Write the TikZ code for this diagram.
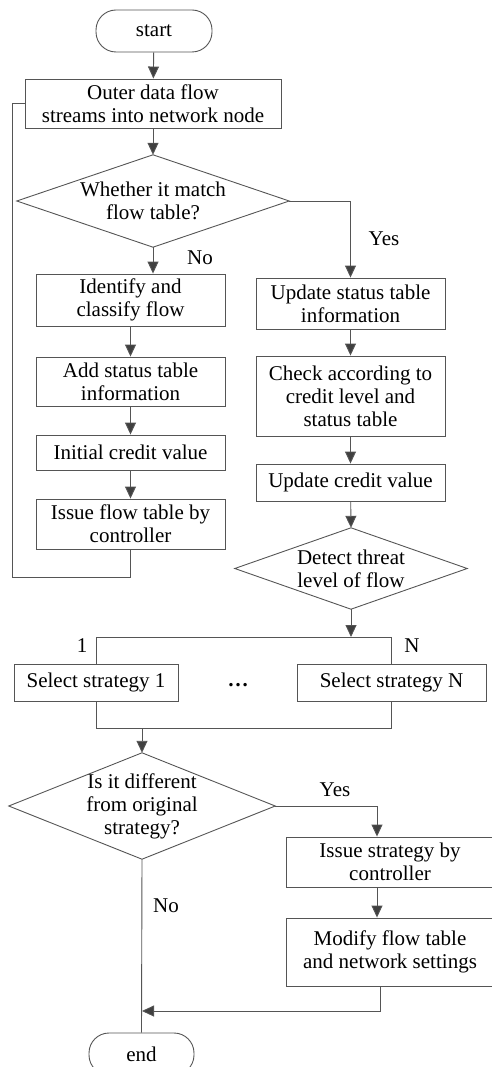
\documentclass[tikz,border=0pt]{standalone}
\usepackage{fontspec}
\setmainfont{Liberation Serif}
\usetikzlibrary{arrows.meta,calc}
\definecolor{ln}{HTML}{555555}
\definecolor{ah}{HTML}{404040}
\begin{document}
\begin{tikzpicture}[x=1pt,y=-1pt,
  every node/.style={font=\fontsize{21}{23}\selectfont, inner sep=0pt, align=center, text=black},
  box/.style={draw=ln, line width=0.9pt, rectangle, minimum width=189pt},
  term/.style={draw=ln, line width=0.9pt, rectangle, rounded corners=20pt},
  dia/.style={rectangle, draw=none},
  lab/.style={font=\fontsize{21}{23}\selectfont},
  conn/.style={draw=ln, line width=0.9pt},
  arr/.style={conn, -{Triangle[width=11pt,length=12pt,fill=ah]}, color=ln}]
\useasboundingbox (0,0) rectangle (491,1067);
% nodes
\node[term, minimum width=116pt, minimum height=42pt] (start) at (154,31) {start};
\node[box, minimum width=256pt, minimum height=49pt] (b1) at (153,103.5) {Outer data flow\\streams into network node};
\node[dia, minimum width=272pt, minimum height=92pt] (d1) at (153,201) {Whether it match\\flow table?};
\draw[conn] (d1.north) -- (d1.east) -- (d1.south) -- (d1.west) -- cycle;
\node[box, minimum height=52pt] (n1) at (130.5,300) {Identify and\\classify flow};
\node[box, minimum height=49pt] (n2) at (130.5,381.5) {Add status table\\information};
\node[box, minimum height=35pt] (n3) at (130.5,452.5) {Initial credit value};
\node[box, minimum height=50pt] (n4) at (130.5,524) {Issue flow table by\\controller};
\node[box, minimum height=51pt] (y1) at (350.5,303.5) {Update status table\\information};
\node[box, minimum height=80pt] (y2) at (350.5,396) {Check according to\\credit level and\\status table};
\node[box, minimum height=37pt] (y3) at (350.5,482.5) {Update credit value};
\node[dia, minimum width=232pt, minimum height=81pt] (d2) at (351,568.5) {Detect threat\\level of flow};
\draw[conn] (d2.north) -- (d2.east) -- (d2.south) -- (d2.west) -- cycle;
\node[box, minimum width=164pt, minimum height=37pt] (s1) at (96,682.5) {Select strategy 1};
\node[box, minimum width=189pt, minimum height=37pt] (sN) at (391.5,682.5) {Select strategy N};
\node (dots) at (238,685) {\textbf{\dots}};
\node[dia, minimum width=266pt, minimum height=106pt] (d3) at (142,806) {Is it different\\from original\\strategy?};
\draw[conn] (d3.north) -- (d3.east) -- (d3.south) -- (d3.west) -- cycle;
\node[box, minimum width=208pt, minimum height=50pt] (a1) at (390,862) {Issue strategy by\\controller};
\node[box, minimum width=208pt, minimum height=68pt] (a2) at (390,952) {Modify flow table\\and network settings};
\node[term, minimum width=105pt, minimum height=42pt] (end) at (141.5,1054) {end};
% labels
\node[lab] (lno1) at (200,258) {No};
\node[lab] (lyes1) at (384,239) {Yes};
\node[lab] (l1) at (82,646) {1};
\node[lab] (lN) at (412,646) {N};
\node[lab] (lyes2) at (335,790) {Yes};
\node[lab] (lno2) at (166,906) {No};
% helper coordinates
\coordinate (loopb) at (12,577);
\coordinate (loopt) at (12,103.5);
\coordinate (top) at (0,637);
\coordinate (bot) at (0,728);
\coordinate (ya) at (377,0);
\coordinate (jn) at (0,1011);
% connectors
\draw[arr] (start) -- (b1);
\draw[arr] (b1) -- (d1.north);
\draw[arr] (d1.south) -- (d1.south |- n1.north);
\draw[arr] (n1) -- (n2);
\draw[arr] (n2) -- (n3);
\draw[arr] (n3) -- (n4);
\draw[conn] (n4.south) |- (loopb) -- (loopt) -- (b1.west);
\draw[arr] (d1.east) -| (y1.north);
\draw[arr] (y1) -- (y2);
\draw[arr] (y2) -- (y3);
\draw[arr] (y3) -- (d2.north);
\draw[arr] (d2.south) -- (d2.south |- top);
\draw[conn] (s1.north) -- (s1.north |- top) -- (sN.north |- top) -- (sN.north);
\draw[conn] (s1.south) -- (s1.south |- bot) -- (sN.south |- bot) -- (sN.south);
\draw[arr] (d3.north |- bot) -- (d3.north);
\draw[arr] (d3.east) -| (ya |- a1.north);
\draw[arr] (ya |- a1.south) -- (ya |- a2.north);
\draw[arr] ([xshift=3pt]ya |- a2.south) |- (d3.south |- jn);
\draw[conn] (d3.south) -- (end.north);
\end{tikzpicture}
\end{document}
